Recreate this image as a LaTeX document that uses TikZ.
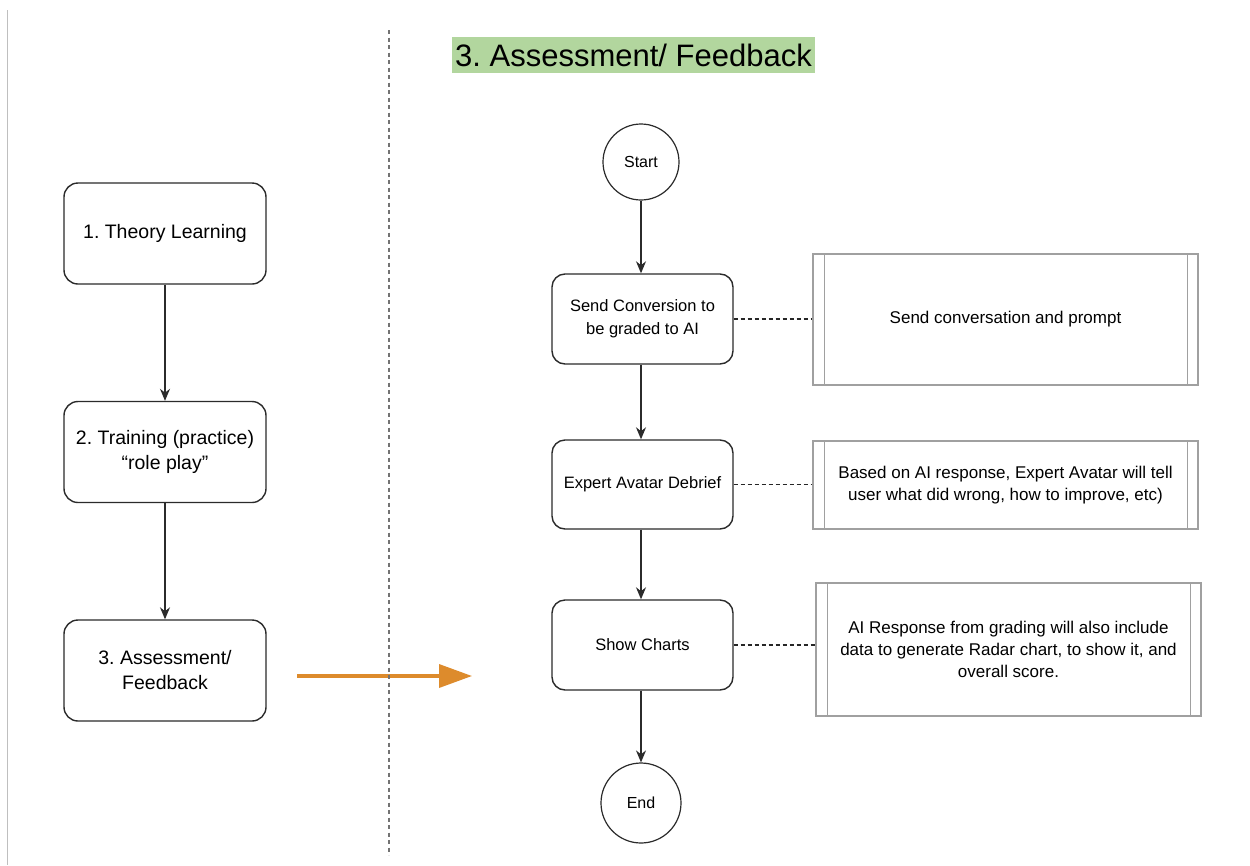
\documentclass[tikz,border=0pt]{standalone}
\usepackage{fontspec}
\setmainfont{Liberation Sans}
\frenchspacing
\usetikzlibrary{arrows.meta,calc}
\definecolor{titlegreen}{HTML}{B2D69E}
\definecolor{arroworange}{HTML}{DD8B2C}
\definecolor{boxline}{HTML}{2B2B2B}
\definecolor{procline}{HTML}{A0A0A0}
\tikzset{
  stagebox/.style={draw=boxline, line width=1.4pt, rounded corners=14pt, minimum width=202pt, minimum height=101pt, inner sep=0pt, align=center, font=\fontsize{19.5}{25}\selectfont},
  flowbox/.style={draw=boxline, line width=1.4pt, rounded corners=13pt, minimum width=181pt, minimum height=90pt, inner sep=0pt, align=center, font=\fontsize{16.5}{23}\selectfont},
  term/.style={draw=boxline, line width=1.2pt, circle, inner sep=0pt, font=\fontsize{16}{19}\selectfont},
  procbox/.style={draw=procline, line width=1.3pt, inner sep=0pt, align=center, minimum width=385pt, font=\fontsize{17}{22}\selectfont},
  flowarrow/.style={draw=boxline, line width=1.2pt, -{Stealth[length=12pt,width=10pt]}},
  link/.style={draw=black!85, line width=1.2pt, dash pattern=on 4pt off 3pt},
}
\newcommand{\procbars}[1]{%
  \draw[procline, line width=1.3pt] ($(#1.north west)+(12,0)$) -- ($(#1.south west)+(12,0)$);
  \draw[procline, line width=1.3pt] ($(#1.north east)+(-11,0)$) -- ($(#1.south east)+(-11,0)$);
}
\begin{document}
\begin{tikzpicture}[x=1pt,y=-1pt]
\useasboundingbox[fill=white] (0,0) rectangle (1250,865);
% left border of the page
\draw[black!25, line width=1pt] (7,10) -- (7,865);

% title
\node[fill=titlegreen, minimum width=363pt, minimum height=36pt, inner sep=0pt, font=\fontsize{31}{36}\selectfont] (title) at (633.5,55) {3. Assessment/ Feedback};

% left stages
\node[stagebox] (s1) at (165,233.5) {1. Theory Learning};
\node[stagebox] (s2) at (165,452) {2. Training (practice)\\“role play”};
\node[stagebox] (s3) at (165,670.5) {3. Assessment/\\Feedback};
\draw[flowarrow] (s1) -- (s2);
\draw[flowarrow] (s2) -- (s3);

% orange arrow
\coordinate (oa) at (297,676);
\coordinate (ob) at (472,676);
\draw[arroworange, line width=3.5pt, -{Triangle[length=33pt,width=23pt]}] (oa) -- (ob);

% separator
\draw[black!55, line width=1.2pt, dash pattern=on 4pt off 3.5pt] (389,30) -- (389,855);

% flow
\node[term, minimum size=76pt] (start) at (641,162) {Start};
\node[flowbox] (send) at (642.5,319) {Send Conversion to\\be graded to AI};
\node[flowbox, minimum height=89pt] (debrief) at (642.5,484.5) {Expert Avatar Debrief};
\node[flowbox] (charts) at (642.5,645) {Show Charts};
\node[term, minimum size=80pt] (end) at (641,803) {End};
\draw[flowarrow] (start.south) -- (start.south |- send.north);
\draw[flowarrow] (send.south -| start.south) -- (start.south |- debrief.north);
\draw[flowarrow] (debrief.south -| start.south) -- (start.south |- charts.north);
\draw[flowarrow] (charts.south -| start.south) -- (end.north);

% process boxes
\node[procbox, minimum height=131pt] (pa) at (1005.5,319.5) {Send conversation and prompt};
\node[procbox, minimum height=88pt] (pb) at (1005.5,485) {Based on AI response, Expert Avatar will tell\\user what did wrong, how to improve, etc)};
\node[procbox, minimum height=133pt] (pc) at (1008.5,649.5) {AI Response from grading will also include\\data to generate Radar chart, to show it, and\\overall score.};
\procbars{pa}
\procbars{pb}
\procbars{pc}

% links
\draw[link] (send.east) -- (send.east -| pa.west);
\draw[link] (debrief.east) -- (debrief.east -| pb.west);
\draw[link] (charts.east) -- (charts.east -| pc.west);
\end{tikzpicture}
\end{document}
